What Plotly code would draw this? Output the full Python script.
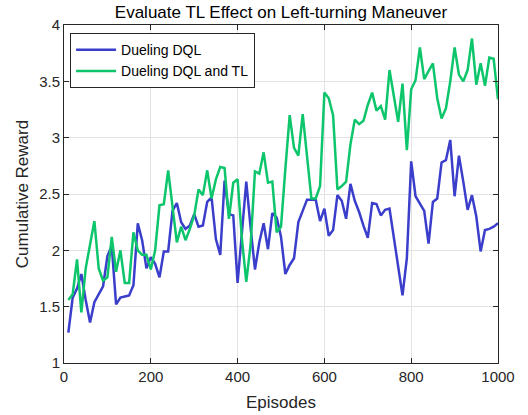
import plotly.graph_objects as go

episodes = list(range(10, 1001, 10))

dueling_dql = [
    1.27, 1.58, 1.66, 1.79, 1.56, 1.36, 1.54, 1.61, 1.68, 1.95,
    2.04, 1.52, 1.58, 1.59, 1.60, 1.69, 2.24, 2.09, 1.84, 1.94,
    1.88, 1.76, 1.99, 1.99, 2.35, 2.42, 2.25, 2.19, 2.22, 2.32,
    2.21, 2.22, 2.43, 2.47, 2.10, 1.96, 2.62, 2.32, 2.31, 1.71,
    2.20, 2.61, 2.20, 1.83, 2.07, 2.24, 2.01, 2.33, 2.29, 2.12,
    1.79, 1.87, 1.93, 2.25, 2.35, 2.45, 2.45, 2.45, 2.26, 2.37,
    2.13, 2.18, 2.49, 2.44, 2.28, 2.59, 2.44, 2.34, 2.22, 2.11,
    2.42, 2.41, 2.31, 2.36, 2.37, 2.12, 1.86, 1.60, 1.93, 2.79,
    2.48, 2.41, 2.35, 2.06, 2.43, 2.46, 2.78, 2.80, 2.98, 2.48,
    2.84, 2.61, 2.36, 2.49, 2.30, 1.99, 2.18, 2.19, 2.21, 2.24,
]

dueling_dql_tl = [
    1.56, 1.61, 1.92, 1.45, 1.84, 2.06, 2.26, 1.84, 1.73, 1.76,
    2.12, 1.81, 2.00, 1.71, 1.71, 2.16, 2.00, 1.96, 1.96, 1.83,
    2.00, 2.40, 2.41, 2.71, 2.40, 2.07, 2.21, 2.09, 2.19, 2.31,
    2.54, 2.49, 2.71, 2.46, 2.63, 2.74, 2.73, 2.28, 2.60, 2.63,
    2.10, 1.72, 2.05, 2.70, 2.68, 2.87, 2.60, 2.61, 2.16, 2.21,
    2.72, 3.20, 2.91, 2.84, 3.21, 2.81, 2.46, 2.46, 2.57, 3.40,
    3.35, 3.20, 2.54, 2.57, 2.61, 2.94, 3.16, 3.12, 3.15, 3.29,
    3.40, 3.24, 3.28, 3.16, 3.60, 3.37, 3.14, 3.48, 2.89, 3.43,
    3.51, 3.80, 3.52, 3.59, 3.66, 3.35, 3.17, 3.26, 3.50, 3.80,
    3.56, 3.50, 3.60, 3.88, 3.47, 3.66, 3.46, 3.71, 3.70, 3.34,
]

x_ticks = [0, 200, 400, 600, 800, 1000]
y_ticks = [1, 1.5, 2, 2.5, 3, 3.5, 4]
y_tick_labels = ["1", "1.5", "2", "2.5", "3", "3.5", "4"]

FONT = "Liberation Sans, Arial, Helvetica, sans-serif"

W, H = 528, 415
ML, MR, MT, MB = 64, 30, 25, 52

fig = go.Figure()
fig.add_trace(go.Scatter(
    x=episodes, y=dueling_dql, mode="lines", name="Dueling DQL",
    line=dict(color="#3a3ecb", width=2.5),
))
fig.add_trace(go.Scatter(
    x=episodes, y=dueling_dql_tl, mode="lines", name="Dueling DQL and TL",
    line=dict(color="#0dc56b", width=2.5),
))

axis_common = dict(
    showline=True, linecolor="#262626", linewidth=1, mirror="ticks",
    ticks="inside", ticklen=5, tickcolor="#262626",
    showgrid=True, gridcolor="#e3e3e3", gridwidth=1,
    zeroline=False, automargin=False,
    tickfont=dict(family=FONT, size=15, color="#262626"),
)

fig.update_layout(
    width=W, height=H,
    margin=dict(l=ML, r=MR, t=MT, b=MB, autoexpand=False),
    paper_bgcolor="white", plot_bgcolor="white",
    font=dict(family=FONT, color="#262626"),
    title=dict(
        text="Evaluate TL Effect on Left-turning Maneuver",
        x=(ML + (W - MR)) / 2 / W, xanchor="center",
        y=1 - 12.5 / H, yanchor="middle",
        font=dict(family=FONT, size=17, color="#000000"),
    ),
    xaxis=dict(
        range=[0, 1000], tickvals=x_ticks,
        title=dict(text="Episodes", font=dict(family=FONT, size=17), standoff=12),
        **axis_common,
    ),
    yaxis=dict(
        range=[1, 4], tickvals=y_ticks, ticktext=y_tick_labels,
        title=dict(text="Cumulative Reward", font=dict(family=FONT, size=17), standoff=6),
        **axis_common,
    ),
    legend=dict(
        x=0.014, y=0.976, xanchor="left", yanchor="top",
        bgcolor="white", bordercolor="#262626", borderwidth=1,
        font=dict(family=FONT, size=14, color="#000000"),
        itemwidth=40, tracegroupgap=0,
    ),
    showlegend=True,
)

fig.write_html(
    "out.html",
    config={"displayModeBar": False, "responsive": False},
    post_script="document.body.style.margin='0';",
)
